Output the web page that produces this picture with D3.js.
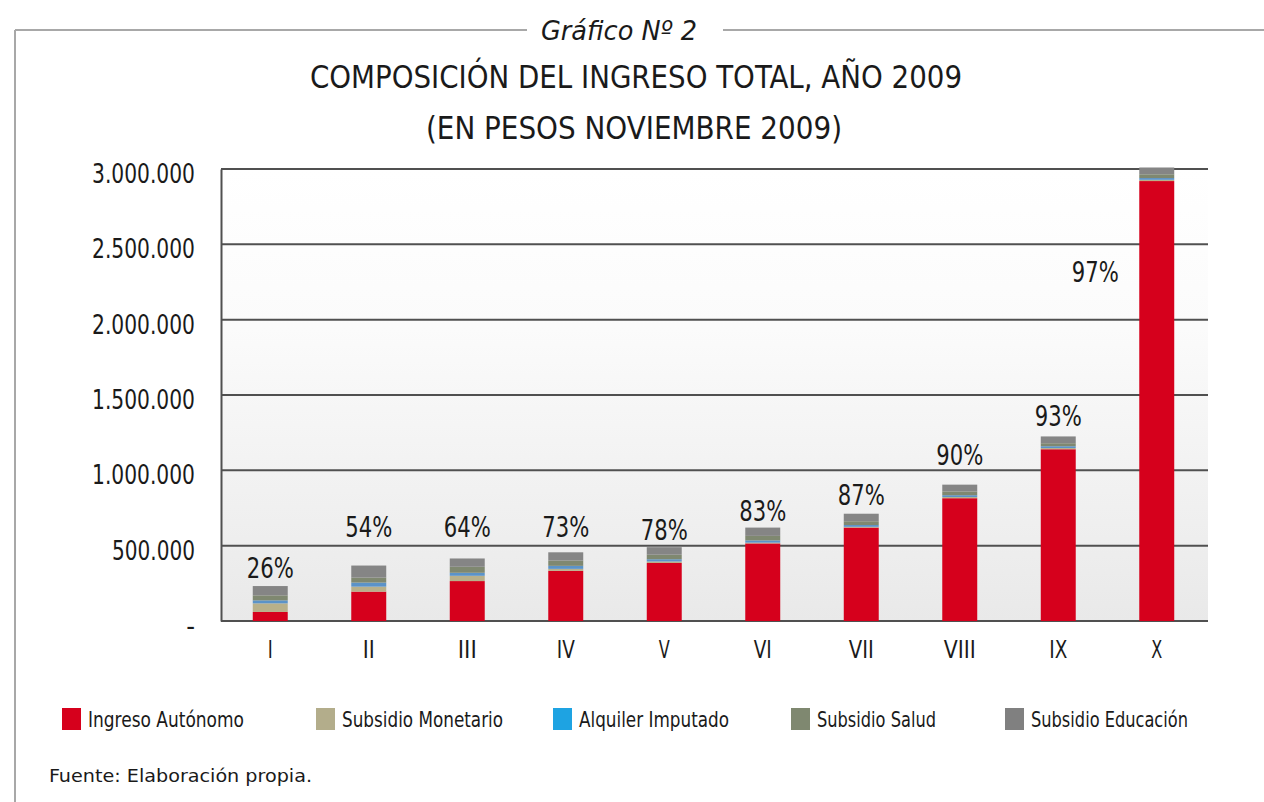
<!DOCTYPE html>
<html><head><meta charset="utf-8">
<script src="https://cdn.jsdelivr.net/npm/d3@7"></script>
<style>
html,body{margin:0;padding:0;background:#fff;}
svg{display:block;}
text{font-family:"DejaVu Sans Condensed","Liberation Sans Narrow","DejaVu Sans",sans-serif;font-stretch:condensed;fill:#1a1a1a;}
</style></head>
<body>
<svg id="chart" width="1264" height="802"></svg>
<script>
// ---- data ----
const categories = ["I","II","III","IV","V","VI","VII","VIII","IX","X"];
const seriesNames = ["Ingreso Autónomo","Subsidio Monetario","Alquiler Imputado","Subsidio Salud","Subsidio Educación"];
const ingresoAutonomo   = [60000, 195000, 265000, 333000, 385000, 515000, 620000, 815000, 1140000, 2920000];
const subsidioMonetario = [57000, 33000, 35000, 13000, 10000, 5000, 5000, 8000, 8000, 8000];
const alquilerImputado  = [20000, 27000, 20000, 20000, 15000, 15000, 12000, 12000, 12000, 12000];
const subsidioSalud     = [33000, 33000, 40000, 35000, 30000, 30000, 25000, 25000, 20000, 25000];
const subsidioEducacion = [62000, 80000, 55000, 55000, 50000, 55000, 50000, 45000, 45000, 45000];
const percentLabels = ["26%","54%","64%","73%","78%","83%","87%","90%","93%","97%"];
const yTickValues = [0, 500000, 1000000, 1500000, 2000000, 2500000, 3000000];
const yTickLabels = ["-", "500.000", "1.000.000", "1.500.000", "2.000.000", "2.500.000", "3.000.000"];

// ---- layout / style (not data) ----
const colors = ["#d6001c", "#b3ad8b", "#1ea3e2", "#7f8870", "#808080"];
const barColors = ["#d6001c", "#b8b08a", "#5b93c8", "#7f8870", "#858585"];
const pctLift = [18, 39, 31, 25, 17, 17, 19, 30, 20, 0];
const condensed = '"DejaVu Sans Condensed","Liberation Sans Narrow","DejaVu Sans",sans-serif';
const glyphW = {I: 5, V: 11, X: 11};

const svg = d3.select("#chart");
const W = 1264, H = 802;
const plot = {left: 221, right: 1208, top: 169, bottom: 621};

// frame
svg.append("rect").attr("width", W).attr("height", H).attr("fill", "#fff");
const frame = svg.append("g").attr("stroke", "#a8a8a8").attr("stroke-width", 2).attr("fill", "none");
frame.append("line").attr("x1", 15).attr("x2", 15).attr("y1", 30).attr("y2", 802);
frame.append("line").attr("x1", 15).attr("x2", 527).attr("y1", 30).attr("y2", 30);
frame.append("line").attr("x1", 723).attr("x2", 1264).attr("y1", 30).attr("y2", 30);

svg.append("text").attr("x", 619).attr("y", 40).attr("text-anchor", "middle")
  .attr("font-size", 27).attr("font-style", "italic").attr("textLength", 156).attr("lengthAdjust", "spacingAndGlyphs")
  .text("Gráfico Nº 2");
svg.append("text").attr("x", 636).attr("y", 88).attr("text-anchor", "middle")
  .attr("font-size", 32).attr("textLength", 652).attr("lengthAdjust", "spacingAndGlyphs")
  .text("COMPOSICIÓN DEL INGRESO TOTAL, AÑO 2009");
svg.append("text").attr("x", 634).attr("y", 139).attr("text-anchor", "middle")
  .attr("font-size", 32).attr("textLength", 416).attr("lengthAdjust", "spacingAndGlyphs")
  .text("(EN PESOS NOVIEMBRE 2009)");

// background gradient
const defs = svg.append("defs");
const grad = defs.append("linearGradient").attr("id", "bg").attr("x1", 0).attr("x2", 0).attr("y1", 0).attr("y2", 1);
grad.append("stop").attr("offset", "0%").attr("stop-color", "#ffffff");
grad.append("stop").attr("offset", "35%").attr("stop-color", "#fbfbfb");
grad.append("stop").attr("offset", "100%").attr("stop-color", "#e9e9e9");
svg.append("rect").attr("x", plot.left).attr("y", plot.top).attr("width", plot.right - plot.left)
  .attr("height", plot.bottom - plot.top).attr("fill", "url(#bg)");

// scales
const x = d3.scaleBand().domain(categories).range([221, 1206]).paddingInner(0.645).paddingOuter(0.3225);
const y = d3.scaleLinear().domain([0, 3000000]).range([plot.bottom, plot.top]);

// gridlines
svg.append("g").selectAll("line").data(yTickValues).join("line")
  .attr("x1", plot.left).attr("x2", plot.right)
  .attr("y1", d => y(d)).attr("y2", d => y(d))
  .attr("stroke", "#505050").attr("stroke-width", 2);

// y axis
const yAxis = d3.axisLeft(y).tickValues(yTickValues).tickSize(0).tickPadding(26)
  .tickFormat((d, i) => yTickLabels[i]);
const ya = svg.append("g").attr("transform", `translate(${plot.left},0)`).call(yAxis);
ya.select(".domain").attr("stroke", "#505050").attr("stroke-width", 2);
ya.selectAll("text").attr("font-size", 27).attr("fill", "#1a1a1a").attr("font-family", condensed)
  .attr("dy", "0.5em")
  .each(function(d, i) {
    const s = yTickLabels[i];
    if (s.length > 1) d3.select(this).attr("textLength", s.length === 9 ? 103 : 83).attr("lengthAdjust", "spacingAndGlyphs");
  });

// x axis
const xAxis = d3.axisBottom(x).tickSize(0).tickPadding(20);
const xa = svg.append("g").attr("transform", `translate(0,${plot.bottom})`).call(xAxis);
xa.select(".domain").remove();
xa.selectAll("text").attr("font-size", 24).attr("fill", "#1a1a1a").attr("font-family", condensed)
  .attr("textLength", d => d.split("").reduce((a, c) => a + glyphW[c], 0) + 2 * (d.length - 1))
  .attr("lengthAdjust", "spacingAndGlyphs");

// stacked bars
const seriesArrays = [ingresoAutonomo, subsidioMonetario, alquilerImputado, subsidioSalud, subsidioEducacion];
const table = categories.map((c, i) => {
  const o = {cat: c};
  seriesNames.forEach((s, k) => o[s] = seriesArrays[k][i]);
  return o;
});
const stacked = d3.stack().keys(seriesNames)(table);
svg.append("g").selectAll("g").data(stacked).join("g")
  .attr("fill", (d, k) => barColors[k])
  .selectAll("rect").data(d => d).join("rect")
  .attr("x", d => x(d.data.cat)).attr("width", x.bandwidth())
  .attr("y", d => y(d[1])).attr("height", d => y(d[0]) - y(d[1]));

// percent labels
const totals = table.map(t => d3.sum(seriesNames, s => t[s]));
svg.append("g").selectAll("text").data(categories).join("text")
  .attr("x", (d, i) => i === 9 ? x(d) - 44 : x(d) + x.bandwidth() / 2)
  .attr("y", (d, i) => i === 9 ? y(2250000) : y(totals[i]) - pctLift[i] + 10)
  .attr("text-anchor", "middle").attr("font-size", 28)
  .attr("textLength", 47).attr("lengthAdjust", "spacingAndGlyphs")
  .text((d, i) => percentLabels[i]);

// legend
const legendX = [62, 316, 553, 791, 1005];
const legendW = [156, 161, 150, 119, 157];
const lg = svg.append("g");
seriesNames.forEach((s, k) => {
  lg.append("rect").attr("x", legendX[k]).attr("y", 708).attr("width", 19).attr("height", 22).attr("fill", colors[k]);
  lg.append("text").attr("x", legendX[k] + 26).attr("y", 727).attr("font-size", 22)
    .attr("textLength", legendW[k]).attr("lengthAdjust", "spacingAndGlyphs").text(s);
});

svg.append("text").attr("x", 49).attr("y", 782).attr("font-size", 18)
  .attr("textLength", 263).attr("lengthAdjust", "spacingAndGlyphs")
  .text("Fuente: Elaboración propia.");
</script>
</body></html>
